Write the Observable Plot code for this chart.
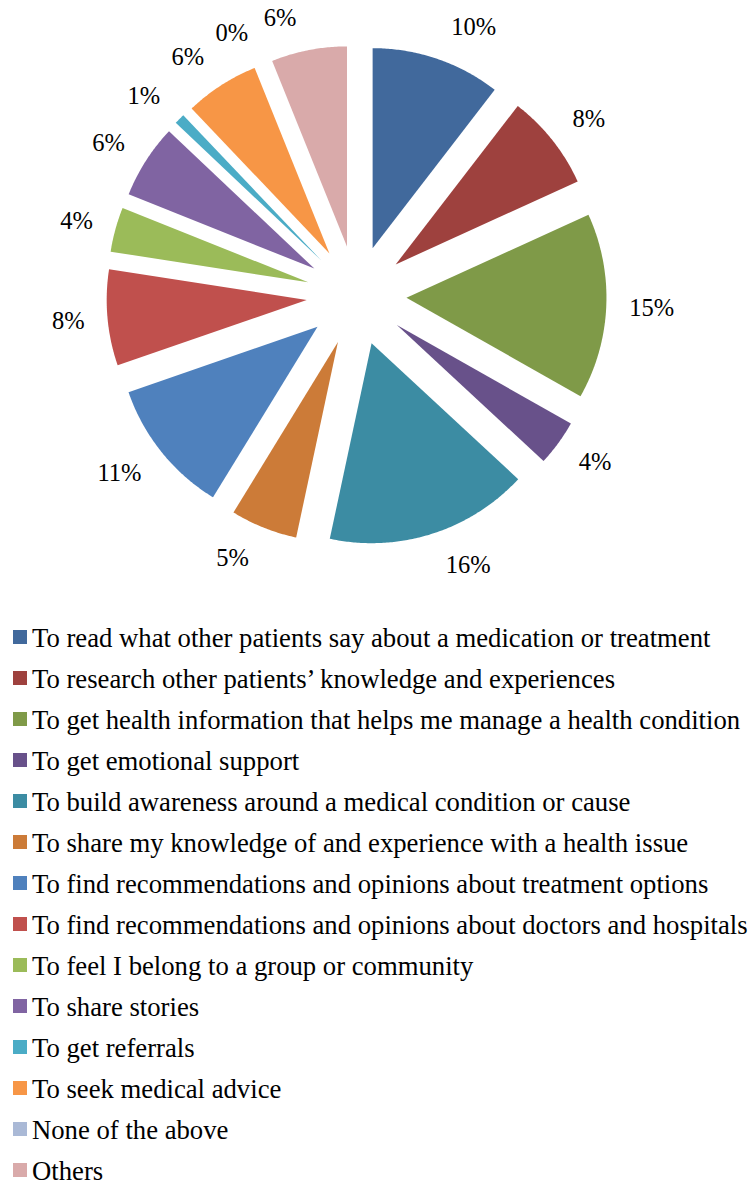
<!DOCTYPE html>
<html>
<head>
<meta charset="utf-8">
<script src="https://cdn.jsdelivr.net/npm/d3@7"></script>
<script src="https://cdn.jsdelivr.net/npm/@observablehq/plot@0.6"></script>
<style>
  html, body { margin: 0; padding: 0; background: #fff; }
  #chart svg { display: block; }
  #legend { position: relative; margin-top: 18px; font-family: "Liberation Serif"; font-size: 26.7px; color: #000; }
  .row { position: relative; height: 41px; line-height: 41px; white-space: nowrap; }
  .sw { position: absolute; left: 13px; top: 12px; width: 14px; height: 14px; }
  .lbl { position: absolute; left: 32px; top: 0; }
</style>
</head>
<body>
<div id="chart"></div>
<div id="legend"></div>
<script>
// ---- data ----
const categories = [
  "To read what other patients say about a medication or treatment",
  "To research other patients\u2019 knowledge and experiences",
  "To get health information that helps me manage a health condition",
  "To get emotional support",
  "To build awareness around a medical condition or cause",
  "To share my knowledge of and experience with a health issue",
  "To find recommendations and opinions about treatment options",
  "To find recommendations and opinions about doctors and hospitals",
  "To feel I belong to a group or community",
  "To share stories",
  "To get referrals",
  "To seek medical advice",
  "None of the above",
  "Others"
];
const values = [10.45, 7.75, 15.0, 3.7, 16.45, 5.4, 10.95, 7.75, 3.6, 6.0, 0.85, 6.0, 0, 6.1];
const colors = [
  "#41699C", "#9E413E", "#7F9A48", "#68518A", "#3C8CA3", "#CC7B38", "#4F81BD",
  "#C0504D", "#9BBB59", "#8064A2", "#4BACC6", "#F79646", "#AAB9D6", "#D9AAAA"
];

// ---- layout constants (pixels) ----
const W = 750, H = 600;
const cx = 356, cy = 295;       // pie centre
const R = 200;                  // pie radius
const explode = 50;             // explosion offset
const labelRX = 263, labelRY = 283, labelGap = 10;
const FONT = "Liberation Serif";

const arcs = d3.pie().sort(null).value(d => d)(values);

const polys = [];
const labels = [];
arcs.forEach((a, i) => {
  const key = categories[i];
  const mid = (a.startAngle + a.endAngle) / 2;
  const ox = explode * Math.sin(mid), oy = explode * Math.cos(mid);
  if (a.endAngle - a.startAngle > 0) {
    polys.push({key, x: ox, y: oy});
    const n = Math.max(2, Math.ceil((a.endAngle - a.startAngle) / (Math.PI / 360)));
    for (let k = 0; k <= n; k++) {
      const t = a.startAngle + (a.endAngle - a.startAngle) * k / n;
      polys.push({key, x: ox + R * Math.sin(t), y: oy + R * Math.cos(t)});
    }
  }
  const ux = Math.sin(mid), uy = Math.cos(mid);
  const side = ux >= 0 ? 1 : -1;
  labels.push({
    key, side,
    x: ux * labelRX + side * labelGap,
    y: uy * labelRY,
    text: Math.round(values[i]) + "%"
  });
});

const chart = Plot.plot({
  width: W,
  height: H,
  margin: 0,
  x: {domain: [-cx, W - cx], axis: null},
  y: {domain: [-(H - cy), cy], axis: null},
  color: {domain: categories, range: colors},
  style: {fontFamily: FONT, fontSize: "24.5px", background: "#fff", color: "#000"},
  marks: [
    Plot.line(polys, {x: "x", y: "y", z: "key", fill: "key", stroke: "none", curve: "linear-closed"}),
    Plot.text(labels.filter(d => d.side > 0), {x: "x", y: "y", text: "text", textAnchor: "start", fill: "#000", fontSize: 24.5}),
    Plot.text(labels.filter(d => d.side < 0), {x: "x", y: "y", text: "text", textAnchor: "end", fill: "#000", fontSize: 24.5})
  ]
});
chart.style.fontFamily = FONT;
chart.querySelectorAll("text").forEach(t => t.style.fontFamily = FONT);
document.getElementById("chart").appendChild(chart);

// ---- legend ----
const legend = document.getElementById("legend");
legend.style.fontFamily = FONT;
categories.forEach((c, i) => {
  const row = document.createElement("div");
  row.className = "row";
  const sw = document.createElement("span");
  sw.className = "sw";
  sw.style.background = chart.scale("color").apply(c);
  const lb = document.createElement("span");
  lb.className = "lbl";
  lb.style.fontFamily = FONT;
  lb.textContent = c;
  row.appendChild(sw);
  row.appendChild(lb);
  legend.appendChild(row);
});
</script>
</body>
</html>
